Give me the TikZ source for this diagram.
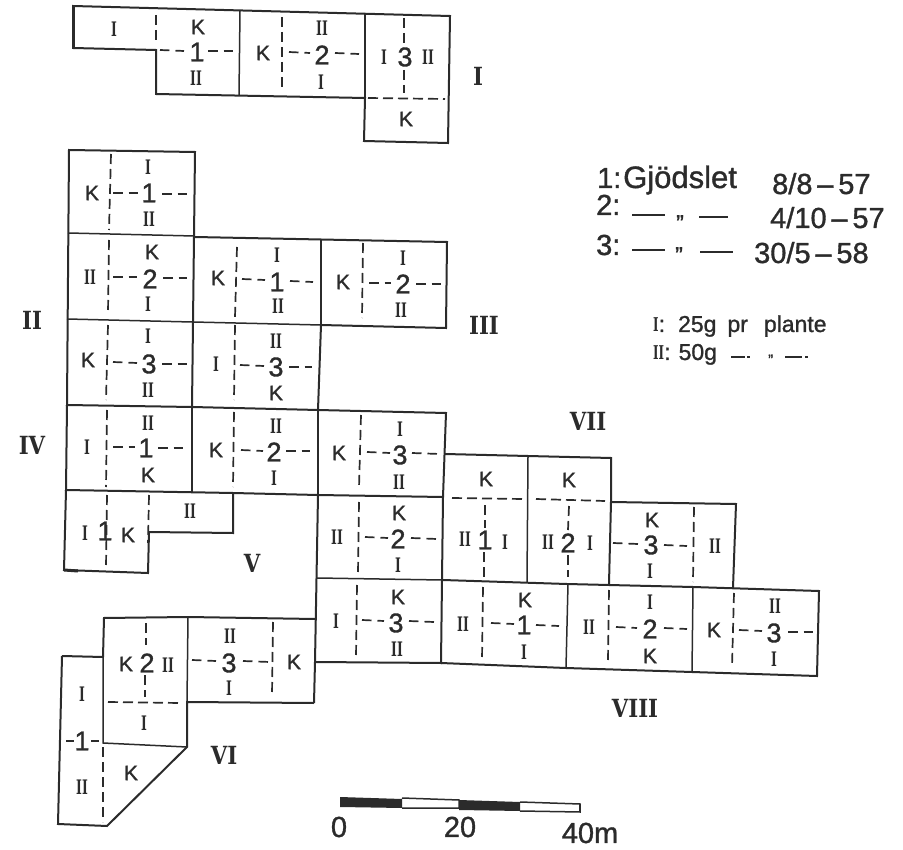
\documentclass[tikz,border=0pt]{standalone}
\usepackage{fontspec}
\usepackage{xcolor}
\setmainfont[FakeBold=1.2]{Liberation Sans}
\newfontfamily\romfont[FakeStretch=0.62]{DejaVu Serif}
\newfontfamily\blockfont[FakeStretch=0.85]{DejaVu Serif}
\definecolor{inkDark}{HTML}{2B2B2B}
\tikzset{
  field/.style={draw=inkDark, line width=2pt, line join=miter},
  edge/.style={draw=inkDark, line width=3pt},
  sep/.style={draw=inkDark, line width=1.5pt},
  sow/.style={draw=inkDark, line width=1.7pt, dash pattern=on 10pt off 5pt},
  hsow/.style={draw=inkDark, line width=1.7pt, dash pattern=on 9.5pt off 6pt},
  klab/.style={font=\fontsize{21}{21}\selectfont, text=inkDark, inner sep=0pt},
  nlab/.style={font=\fontsize{27}{27}\selectfont, text=inkDark, inner sep=0pt},
  rlab/.style={font=\romfont\bfseries\fontsize{20}{20}\selectfont, text=inkDark, inner sep=0pt},
  blab/.style={font=\blockfont\bfseries\fontsize{25}{25}\selectfont, text=inkDark, inner sep=0pt},
  leg/.style={font=\fontsize{29}{29}\selectfont, text=inkDark, inner sep=0pt, anchor=base west},
  lsm/.style={font=\fontsize{23}{23}\selectfont, text=inkDark, inner sep=0pt, anchor=base west},
  scl/.style={font=\fontsize{29}{29}\selectfont, text=inkDark, inner sep=0pt}
}
\begin{document}
\begin{tikzpicture}[x=1pt, y=-1pt]
\useasboundingbox (0,0) rectangle (903,850);

% block I
\draw[field] (73,6) -- (450,16) -- (448,143) -- (364,141) -- (365,98) -- (156,94) -- (156,50) -- (73,48) -- cycle;
\draw[edge] (73,6) -- (73,48);
\draw[sep] (240,11) -- (239,95);
\draw[sep] (365,14) -- (365,98);
\draw[sow] (156,15) -- (156,43);
\draw[hsow] (160,50) -- (184,51);
\draw[hsow] (208,51) -- (233,51);
\draw[sow] (282,17) -- (282,90);
\draw[hsow] (289,52) -- (310,53);
\draw[hsow] (335,53) -- (359,54);
\draw[sow] (404,18) -- (404,46);
\draw[sow] (404,70) -- (404,93);
\draw[sow] (368,98) -- (445,99);
\node[rlab] (a1a) at (114,29) {I};
\node[klab] (a1k) at (198,27) {K};
\node[nlab] (a1n) at (197,52) {1};
\node[rlab] (a1b) at (196,78) {II};
\node[klab] (a2k) at (263,53) {K};
\node[rlab] (a2b) at (322,28) {II};
\node[nlab] (a2n) at (322,55) {2};
\node[rlab] (a2a) at (321,82) {I};
\node[rlab] (a3a) at (384,57) {I};
\node[nlab] (a3n) at (405,57) {3};
\node[rlab] (a3b) at (428,57) {II};
\node[klab] (a3k) at (406,119) {K};
\node[blab] (blockA) at (478,76) {I};

% block II
\draw[field] (69,150) -- (195,152) -- (193,322) -- (192,407) -- (67,405) -- cycle;
\draw[sep] (68,233) -- (194,236);
\draw[sep] (67,319) -- (192,322);
\draw[sow] (111,154) -- (109,230);
\draw[hsow] (113,193) -- (138,193);
\draw[hsow] (162,194) -- (188,194);
\draw[sow] (109,240) -- (108,313);
\draw[hsow] (113,277) -- (137,277);
\draw[hsow] (163,278) -- (187,278);
\draw[sow] (108,325) -- (106,400);
\draw[hsow] (113,362) -- (137,363);
\draw[hsow] (162,364) -- (187,364);
\node[klab] (b1k) at (92,193) {K};
\node[rlab] (b1a) at (148,167) {I};
\node[nlab] (b1n) at (149,193) {1};
\node[rlab] (b1b) at (149,219) {II};
\node[rlab] (b2b) at (90,277) {II};
\node[klab] (b2k) at (152,252) {K};
\node[nlab] (b2n) at (150,279) {2};
\node[rlab] (b2a) at (148,304) {I};
\node[klab] (b3k) at (88,360) {K};
\node[rlab] (b3a) at (148,336) {I};
\node[nlab] (b3n) at (149,364) {3};
\node[rlab] (b3b) at (148,390) {II};
\node[blab] (blockB) at (32,320) {II};

% block III
\draw[field] (195,237) -- (447,242) -- (446,328) -- (321,325) -- (318,410) -- (192,407);
\draw[sep] (321,239) -- (321,325);
\draw[sep] (193,322) -- (321,325);
\draw[sow] (237,247) -- (235,317);
\draw[hsow] (242,279) -- (265,280);
\draw[hsow] (290,281) -- (313,282);
\draw[sow] (363,243) -- (362,318);
\draw[hsow] (369,283) -- (391,283);
\draw[hsow] (416,284) -- (442,284);
\draw[sow] (235,325) -- (234,400);
\draw[hsow] (240,365) -- (264,366);
\draw[hsow] (289,367) -- (312,367);
\node[klab] (c1k) at (218,278) {K};
\node[rlab] (c1a) at (277,255) {I};
\node[nlab] (c1n) at (277,282) {1};
\node[rlab] (c1b) at (278,306) {II};
\node[klab] (c2k) at (343,282) {K};
\node[rlab] (c2a) at (403,258) {I};
\node[nlab] (c2n) at (403,284) {2};
\node[rlab] (c2b) at (401,310) {II};
\node[rlab] (c3a) at (216,364) {I};
\node[rlab] (c3b) at (276,341) {II};
\node[nlab] (c3n) at (276,367) {3};
\node[klab] (c3k) at (276,393) {K};
\node[blab] (blockC) at (484,325) {III};

% block IV
\draw[field] (318,410) -- (446,413) -- (443,497) -- (318,495) -- (233,493) -- (66,490) -- (67,405);
\draw[sep] (192,407) -- (192,492);
\draw[sep] (318,410) -- (318,495);
\draw[sow] (107,410) -- (106,487);
\draw[hsow] (113,447) -- (135,447);
\draw[hsow] (158,448) -- (185,448);
\draw[sow] (234,412) -- (233,487);
\draw[hsow] (241,450) -- (263,451);
\draw[hsow] (286,451) -- (310,451);
\draw[sow] (361,415) -- (359,488);
\draw[hsow] (367,452) -- (390,453);
\draw[hsow] (412,453) -- (440,454);
\node[rlab] (d1a) at (87,447) {I};
\node[rlab] (d1b) at (148,423) {II};
\node[nlab] (d1n) at (146,448) {1};
\node[klab] (d1k) at (148,475) {K};
\node[klab] (d2k) at (216,450) {K};
\node[rlab] (d2b) at (276,426) {II};
\node[nlab] (d2n) at (274,452) {2};
\node[rlab] (d2a) at (274,478) {I};
\node[klab] (d3k) at (339,453) {K};
\node[rlab] (d3a) at (400,429) {I};
\node[nlab] (d3n) at (400,455) {3};
\node[rlab] (d3b) at (399,482) {II};
\node[blab] (blockD) at (32,445) {IV};

% block V
\draw[field] (66,490) -- (64,570) -- (148,573) -- (149,532) -- (233,533) -- (233,493);
\draw[edge] (64,570) -- (78,571);
\draw[field] (318,495) -- (315,662) -- (314,703);
\draw[field] (443,497) -- (441,663) -- (315,662);
\draw[sep] (317,578) -- (442,580);
\draw[sow] (107,495) -- (106,567);
\draw[sow] (149,495) -- (148,543);
\draw[sow] (359,502) -- (358,573);
\draw[hsow] (365,537) -- (388,538);
\draw[hsow] (411,538) -- (437,539);
\draw[sow] (357,585) -- (356,657);
\draw[hsow] (362,620) -- (384,621);
\draw[hsow] (409,621) -- (434,622);
\node[rlab] (e1a) at (85,533) {I};
\node[nlab] (e1n) at (105,531) {1};
\node[klab] (e1k) at (128,535) {K};
\node[rlab] (e1b) at (190,511) {II};
\node[rlab] (e2b) at (337,537) {II};
\node[klab] (e2k) at (399,513) {K};
\node[nlab] (e2n) at (398,539) {2};
\node[rlab] (e2a) at (398,565) {I};
\node[rlab] (e3a) at (336,621) {I};
\node[klab] (e3k) at (398,597) {K};
\node[nlab] (e3n) at (396,623) {3};
\node[rlab] (e3b) at (397,649) {II};
\node[blab] (blockE) at (252,563) {V};

% block VI
\draw[field] (62,656) -- (103,657) -- (104,618) -- (188,617) -- (315,619);
\draw[field] (314,703) -- (187,702) -- (187,747) -- (107,826) -- (58,824) -- (62,656);
\draw[sep] (188,617) -- (187,702);
\draw[sep] (103,657) -- (103,743) -- (187,747);
\draw[sow] (146,623) -- (146,645);
\draw[sow] (145,675) -- (145,697);
\draw[sow] (108,702) -- (180,703);
\draw[sow] (273,622) -- (272,695);
\draw[hsow] (192,660) -- (216,661);
\draw[hsow] (243,661) -- (270,662);
\draw[sow] (103,747) -- (103,822);
\draw[sep] (66,741) -- (74,741);
\draw[sep] (91,741) -- (99,741);
\node[rlab] (f1a) at (82,694) {I};
\node[nlab] (f1n) at (82,741) {1};
\node[rlab] (f1b) at (82,787) {II};
\node[klab] (f1k) at (131,773) {K};
\node[klab] (f2k) at (126,664) {K};
\node[nlab] (f2n) at (147,663) {2};
\node[rlab] (f2b) at (168,665) {II};
\node[rlab] (f2a) at (144,723) {I};
\node[rlab] (f3b) at (230,636) {II};
\node[nlab] (f3n) at (229,663) {3};
\node[rlab] (f3a) at (229,688) {I};
\node[klab] (f3k) at (294,662) {K};
\node[blab] (blockF) at (224,755) {VI};

% block VII
\draw[field] (445,454) -- (611,458) -- (611,502) -- (736,504) -- (733,588);
\draw[sep] (528,457) -- (527,582);
\draw[field] (611,502) -- (609,584);
\draw[sow] (452,498) -- (523,499);
\draw[sow] (485,505) -- (485,528);
\draw[sow] (484,552) -- (484,577);
\draw[sow] (536,499) -- (605,501);
\draw[sow] (569,506) -- (568,530);
\draw[sow] (568,555) -- (568,577);
\draw[sow] (694,507) -- (693,582);
\draw[hsow] (613,543) -- (638,544);
\draw[hsow] (664,545) -- (687,546);
\node[klab] (g1k) at (486,479) {K};
\node[rlab] (g1b) at (465,539) {II};
\node[nlab] (g1n) at (485,540) {1};
\node[rlab] (g1a) at (505,542) {I};
\node[klab] (g2k) at (569,480) {K};
\node[rlab] (g2b) at (548,542) {II};
\node[nlab] (g2n) at (568,543) {2};
\node[rlab] (g2a) at (590,543) {I};
\node[klab] (g3k) at (652,520) {K};
\node[nlab] (g3n) at (651,545) {3};
\node[rlab] (g3a) at (650,571) {I};
\node[rlab] (g3b) at (715,546) {II};
\node[blab] (blockG) at (588,421) {VII};

% block VIII
\draw[field] (443,580) -- (567,584) -- (693,587) -- (819,591) -- (817,676) -- (692,672) -- (566,668) -- (441,663);
\draw[sep] (568,584) -- (566,668);
\draw[sep] (693,587) -- (692,672);
\draw[sow] (483,587) -- (482,660);
\draw[hsow] (491,623) -- (514,624);
\draw[hsow] (536,625) -- (559,626);
\draw[sow] (609,590) -- (608,660);
\draw[hsow] (616,627) -- (637,628);
\draw[hsow] (664,628) -- (687,629);
\draw[sow] (734,593) -- (732,667);
\draw[hsow] (739,630) -- (762,631);
\draw[hsow] (788,632) -- (813,632);
\node[rlab] (h1b) at (463,624) {II};
\node[klab] (h1k) at (525,600) {K};
\node[nlab] (h1n) at (524,625) {1};
\node[rlab] (h1a) at (524,652) {I};
\node[rlab] (h2b) at (589,627) {II};
\node[rlab] (h2a) at (650,602) {I};
\node[nlab] (h2n) at (650,629) {2};
\node[klab] (h2k) at (650,656) {K};
\node[klab] (h3k) at (714,630) {K};
\node[rlab] (h3b) at (775,606) {II};
\node[nlab] (h3n) at (774,633) {3};
\node[rlab] (h3a) at (774,659) {I};
\node[blab] (blockH) at (635,708) {VIII};

% legend
\node[leg] (leg1) at (597,188) {1:};
\node[leg, font=\fontsize{31}{31}\selectfont] (legword) at (623,188) {Gjödslet};
\node[leg] (date1) at (772,194) {8/8\,–\,57};
\node[leg] (leg2) at (596,215) {2:};
\draw[field] (632,215) -- (665,215);
\node[lsm] (ditto2) at (676,231) {"};
\draw[field] (699,217) -- (728,217);
\node[leg] (date2) at (770,228) {4/10\,–\,57};
\node[leg] (leg3) at (596,255) {3:};
\draw[field] (632,250) -- (665,250);
\node[lsm] (ditto3) at (675,263) {"};
\draw[field] (700,252) -- (733,252);
\node[leg] (date3) at (754,263) {30/5\,–\,58};
\node[lsm] (dose1) at (653,332) {{\romfont\bfseries\fontsize{19}{19}\selectfont I}:\hspace{13pt}25g\hspace{11pt}pr\hspace{16pt}plante};
\node[lsm] (dose2) at (653,360) {{\romfont\bfseries\fontsize{19}{19}\selectfont II}:\hspace{8pt}50g};
\draw[sep] (731,357) -- (745,357);
\draw[sep] (747,357) -- (750,357);
\node[lsm, font=\fontsize{15}{15}\selectfont] (ditto4) at (768,365) {"};
\draw[sep] (785,357) -- (802,357);
\draw[sep] (805,357) -- (808,357);

% scale bar
\fill[inkDark] (340,797) -- (402,799) -- (402,808) -- (340,807) -- cycle;
\draw[sep] (402,798) -- (459,800) -- (459,808) -- (402,808);
\fill[inkDark] (459,800) -- (520,802) -- (520,811) -- (459,810) -- cycle;
\draw[sep] (520,802) -- (580,804) -- (580,812) -- (520,811);
\draw[sep] (580,804) -- (580,812);
\node[scl] (scale0) at (339,827) {0};
\node[scl] (scale20) at (460,827) {20};
\node[scl] (scale40) at (590,833) {40m};
\end{tikzpicture}
\end{document}
